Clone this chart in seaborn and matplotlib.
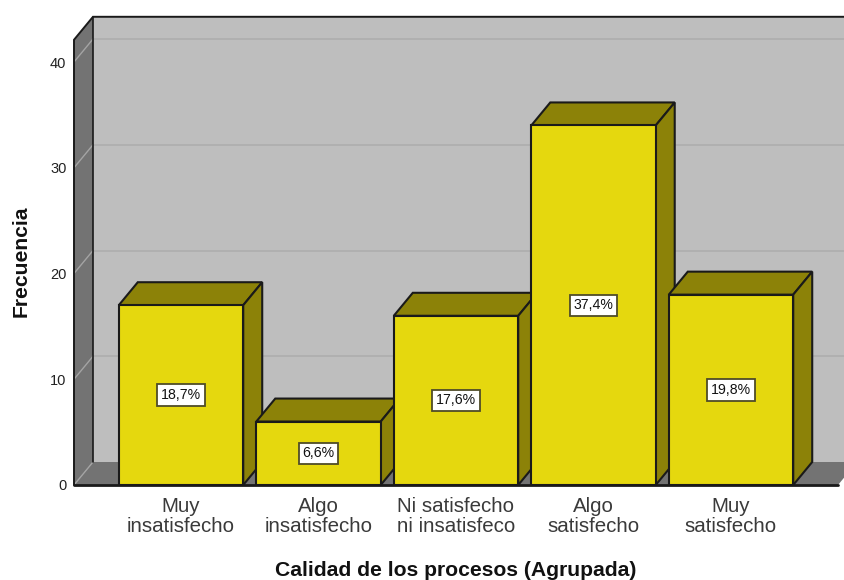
import matplotlib
matplotlib.use("Agg")
import matplotlib.pyplot as plt
import pandas as pd
import seaborn as sns

categories = ["Muy\ninsatisfecho", "Algo\ninsatisfecho", "Ni satisfecho\nni insatisfeco",
              "Algo\nsatisfecho", "Muy\nsatisfecho"]
counts = [17, 6, 16, 34, 18]
percent_labels = ["18,7%", "6,6%", "17,6%", "37,4%", "19,8%"]
y_ticks = [0, 10, 20, 30, 40]

YELLOW = "#e5d80e"
OLIVE = "#8c8208"
WALL = "#bebebe"
SIDE = "#737373"
GRID = "#aeaeae"
GRID_SIDE = "#a4a4a4"
INK = "#1a1a1a"

W, H = 844, 580
LEFT, RIGHT, TOP, BOTTOM = 74, 844, 16, 485
PX_PER_CAT = 137.5
PX_PER_UNIT = 10.575

sns.set_theme(style="white")
plt.rcParams["font.family"] = ["Liberation Sans", "DejaVu Sans"]

fig = plt.figure(figsize=(W / 100, H / 100), dpi=100, facecolor="white")
ax = fig.add_axes([LEFT / W, 1 - BOTTOM / H, (RIGHT - LEFT) / W, (BOTTOM - TOP) / H])

df = pd.DataFrame({"cat": categories, "n": counts})
sns.barplot(data=df, x="cat", y="n", order=categories, width=0.905, color=YELLOW,
            saturation=1, edgecolor=INK, linewidth=1.5, zorder=5, ax=ax)

# Data limits that keep one category at 137.5 px and one unit at 10.575 px.
x_min = (LEFT - 181) / PX_PER_CAT
x_max = (RIGHT - 181) / PX_PER_CAT
ax.set_xlim(x_min, x_max)
ax.set_ylim(0, (BOTTOM - TOP) / PX_PER_UNIT)

# Extrusion depth of the pseudo-3D box.
dx = 19 / PX_PER_CAT
dy = 23 / PX_PER_UNIT
floor_end = (838 - 181) / PX_PER_CAT
y_top = 42.1

# Walls and floor.
ax.fill([x_min + dx, x_max + 1, x_max + 1, x_min + dx], [dy, dy, y_top + dy, y_top + dy],
        color=WALL, lw=0, zorder=1, clip_on=False)
ax.fill([x_min, x_min + dx, x_min + dx, x_min], [0, dy, y_top + dy, y_top],
        color=SIDE, lw=0, zorder=1, clip_on=False)
ax.fill([x_min, floor_end, floor_end + dx, x_min + dx], [0, 0, dy, dy],
        color=SIDE, lw=0, zorder=1)

# Gridlines running along the side wall and the back wall.
for v in y_ticks[1:]:
    ax.plot([x_min, x_min + dx], [v, v + dy], color=GRID_SIDE, lw=1, zorder=2, clip_on=False)
    ax.plot([x_min + dx, x_max], [v + dy, v + dy], color=GRID, lw=1.2, zorder=2)

# Box outline.
ax.plot([x_min, x_min, x_min + dx, x_max], [0, y_top, y_top + dy, y_top + dy],
        color=INK, lw=1.4, zorder=3, clip_on=False, solid_joinstyle="miter")
ax.plot([x_min + dx, x_min + dx], [dy, y_top + dy], color=INK, lw=1.2, zorder=3)
ax.plot([x_min, floor_end], [0, 0], color=INK, lw=2, zorder=8, clip_on=False)
ax.plot([x_min, x_min + dx], [0, dy], color=GRID_SIDE, lw=1, zorder=2)

# Top and right faces for each bar, then its percentage box.
for i, (bar, label) in enumerate(zip(ax.patches, percent_labels)):
    x0, x1 = bar.get_x(), bar.get_x() + bar.get_width()
    h = bar.get_height()
    base = 4 + i * 0.01
    ax.fill([x0, x1, x1 + dx, x0 + dx], [h, h, h + dy, h + dy], facecolor=OLIVE,
            edgecolor=INK, lw=1.5, zorder=base, joinstyle="miter")
    ax.fill([x1, x1 + dx, x1 + dx, x1], [0, dy, h + dy, h], facecolor=OLIVE,
            edgecolor=INK, lw=1.5, zorder=base, joinstyle="miter")
    bar.set_zorder(5 + i * 0.01)
    ax.text(i, h / 2, label, ha="center", va="center", fontsize=10.2, color="#111111", zorder=7,
            bbox=dict(boxstyle="square,pad=0.26", fc="white", ec="#4f4c28", lw=1.3))

ax.set_xticks(range(len(categories)), categories)
ax.set_yticks(y_ticks)
ax.tick_params(axis="x", length=0, pad=9, labelsize=14.8, labelcolor="#3a3a3a")
ax.tick_params(axis="y", length=0, pad=5.5, labelsize=10.5, labelcolor="#222222")
for t in ax.get_xticklabels():
    t.set_linespacing(1.0)
sns.despine(ax=ax, left=True, bottom=True, top=True, right=True)
ax.patch.set_visible(False)

ax.set_xlabel("Calidad de los procesos (Agrupada)", fontsize=15.2, fontweight="bold", color="#111111")
ax.xaxis.set_label_coords((455.5 - LEFT) / (RIGHT - LEFT), -(561 - BOTTOM) / (BOTTOM - TOP))
ax.set_ylabel("Frecuencia", fontsize=15.2, fontweight="bold", color="#111111")
ax.yaxis.set_label_coords((31 - LEFT) / (RIGHT - LEFT), (BOTTOM - 261) / (BOTTOM - TOP))

fig.savefig("out.png", dpi=100)
